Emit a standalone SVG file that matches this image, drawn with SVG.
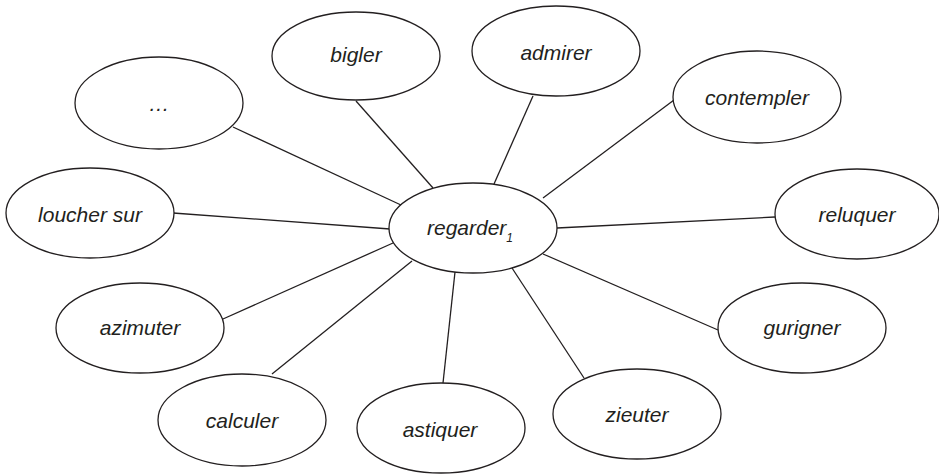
<svg xmlns="http://www.w3.org/2000/svg" width="939" height="475" viewBox="0 0 939 475">
<style>
.n ellipse{fill:#fff;stroke:#231f20;stroke-width:1.3}
.n text{font-family:"Liberation Sans",Arial,sans-serif;font-style:italic;font-size:21px;fill:#231f20;text-anchor:middle}
.c line{stroke:#231f20;stroke-width:1.3}
</style>
<rect width="939" height="475" fill="#fff"/>
<g class="c" id="connectors">
<line x1="233" y1="127" x2="401" y2="205"/>
<line x1="356" y1="101" x2="433" y2="188"/>
<line x1="533" y1="96" x2="494" y2="184"/>
<line x1="674" y1="100" x2="543" y2="198"/>
<line x1="173" y1="213" x2="390" y2="229"/>
<line x1="557" y1="228" x2="775" y2="217"/>
<line x1="223" y1="319" x2="393" y2="243"/>
<line x1="543" y1="254" x2="718" y2="330"/>
<line x1="272" y1="374" x2="412" y2="261"/>
<line x1="455" y1="272" x2="443" y2="383"/>
<line x1="512" y1="268" x2="584" y2="378"/>
</g>
<g class="n" id="n-regarder"><ellipse cx="473" cy="228" rx="84" ry="45"/><text x="470" y="235">regarder<tspan font-size="12" dy="7">1</tspan></text></g>
<g class="n" id="n-ellipsis"><ellipse cx="159" cy="103" rx="84" ry="46"/><text x="159" y="111">…</text></g>
<g class="n" id="n-bigler"><ellipse cx="356" cy="56" rx="84" ry="44"/><text x="356" y="62">bigler</text></g>
<g class="n" id="n-admirer"><ellipse cx="556" cy="51" rx="84" ry="45"/><text x="556" y="60">admirer</text></g>
<g class="n" id="n-contempler"><ellipse cx="757" cy="97" rx="84" ry="46"/><text x="757" y="105">contempler</text></g>
<g class="n" id="n-loucher"><ellipse cx="90" cy="213" rx="84" ry="45"/><text x="90" y="222">loucher sur</text></g>
<g class="n" id="n-reluquer"><ellipse cx="857" cy="214" rx="82" ry="45"/><text x="857" y="222">reluquer</text></g>
<g class="n" id="n-azimuter"><ellipse cx="140" cy="328" rx="84" ry="45"/><text x="140" y="335">azimuter</text></g>
<g class="n" id="n-gurigner"><ellipse cx="802" cy="328" rx="84" ry="45"/><text x="802" y="335">gurigner</text></g>
<g class="n" id="n-calculer"><ellipse cx="242" cy="420" rx="84" ry="46"/><text x="242" y="428">calculer</text></g>
<g class="n" id="n-astiquer"><ellipse cx="441" cy="428" rx="84" ry="45"/><text x="440" y="437">astiquer</text></g>
<g class="n" id="n-zieuter"><ellipse cx="637" cy="414" rx="84" ry="45"/><text x="637" y="422">zieuter</text></g>
</svg>
